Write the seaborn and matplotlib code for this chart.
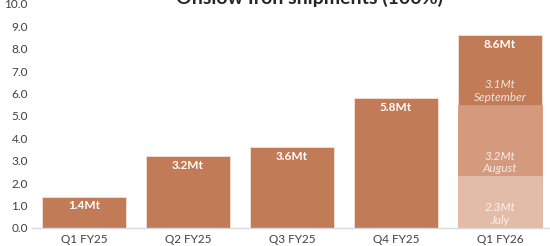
import matplotlib
matplotlib.use("Agg")
import matplotlib.pyplot as plt
import seaborn as sns
import pandas as pd

# ---- data ----
categories = ["Q1 FY25", "Q2 FY25", "Q3 FY25", "Q4 FY25", "Q1 FY26"]
totals = [1.4, 3.2, 3.6, 5.8, 8.6]
total_labels = ["1.4Mt", "3.2Mt", "3.6Mt", "5.8Mt", "8.6Mt"]
months = ["July", "August", "September"]
month_values = [2.3, 3.2, 3.1]
month_labels = ["2.3Mt", "3.2Mt", "3.1Mt"]
y_ticks = [0.0, 1.0, 2.0, 3.0, 4.0, 5.0, 6.0, 7.0, 8.0, 9.0, 10.0]
title = "Onslow Iron shipments (100%)"

# ---- style ----
sns.set_theme(style="white")
plt.rcParams["font.family"] = ["Lato", "DejaVu Sans"]

c_main = "#C27B57"
c_aug = "#D49A7E"
c_jul = "#E3BCA8"
edge = "#F3E2D8"

fig = plt.figure(figsize=(5.5, 2.46), dpi=100)
ax = fig.add_axes([32 / 550, 18 / 246, 520 / 550, 224 / 246])

df = pd.DataFrame({"cat": categories, "val": totals})
sns.barplot(data=df, x="cat", y="val", order=categories, color=c_main,
            width=0.8, edgecolor=edge, linewidth=0.6, saturation=1, ax=ax)

# stacked monthly segments for last quarter
cum = []
s = 0
for v in month_values:
    s += v
    cum.append(s)
last = categories[-1]
for top, col in [(cum[1], c_aug), (cum[0], c_jul)]:
    d = pd.DataFrame({"cat": [last], "val": [top]})
    sns.barplot(data=d, x="cat", y="val", order=categories, color=col,
                width=0.8, edgecolor=col, linewidth=0.6, saturation=1, ax=ax)

# total labels
for i, (v, lab) in enumerate(zip(totals, total_labels)):
    ax.annotate(lab, (i, v), xytext=(0, -6.5), textcoords="offset points",
                ha="center", va="center", color="white", fontsize=8.5,
                fontweight="bold")

# month labels
bottoms = [0] + cum[:-1]
for b, lab, m in zip(bottoms, month_labels, months):
    ax.annotate(f"{lab}\n{m}", (len(categories) - 1, b), xytext=(0, 10),
                textcoords="offset points", ha="center", va="center",
                color="white", alpha=0.8, fontsize=8.5, style="italic",
                linespacing=1.2)

ax.set_ylim(0, 10)
ax.set_xlim(-0.5, len(categories) - 0.5)
ax.set_yticks(y_ticks)
ax.set_yticklabels([f"{t:.1f}" for t in y_ticks])
ax.set_xlabel("")
ax.set_ylabel("")
for sp in ["top", "right", "left"]:
    ax.spines[sp].set_visible(False)
ax.spines["bottom"].set_color("#D9D9D9")
ax.spines["bottom"].set_linewidth(1)
ax.tick_params(axis="both", length=0, colors="#404040", labelsize=8.5)
ax.tick_params(axis="y", pad=3)
ax.tick_params(axis="x", pad=4)

fig.text(310 / 550, 1 - 3.5 / 246, title, ha="center", va="baseline",
         fontsize=14, fontweight="bold", color="#262626")

fig.savefig("out.png", dpi=100)
